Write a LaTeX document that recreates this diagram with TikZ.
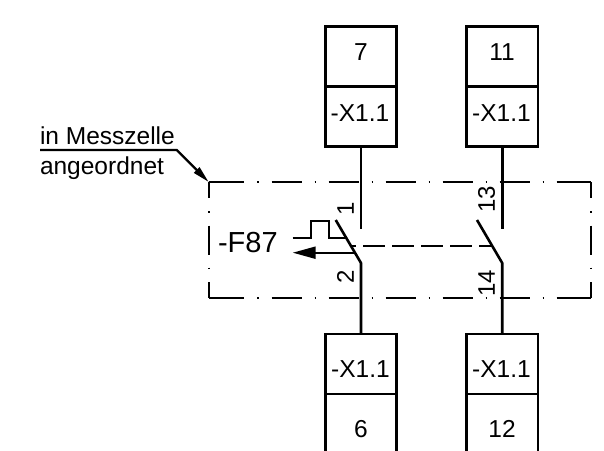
\documentclass[tikz,border=0pt]{standalone}
\usepackage{fontspec}
\setmainfont{Liberation Sans}
\usetikzlibrary{arrows.meta}
\tikzset{
  cell/.style={draw=black,line width=2.6pt,minimum width=71.5pt,minimum height=60pt,inner sep=0pt,outer sep=0pt},
  celltext/.style={inner sep=0pt,outer sep=0pt,anchor=base,font=\fontsize{24.5}{26}\selectfont},
  wire/.style={draw=black,line width=2.6pt},
  thin wire/.style={draw=black,line width=2.2pt},
  border/.style={draw=black,line width=1.9pt},
  txt/.style={inner sep=0pt,outer sep=0pt,font=\fontsize{24.5}{26}\selectfont},
  pin/.style={inner sep=0pt,outer sep=0pt,rotate=90,font=\fontsize{24}{26}\selectfont}
}
\begin{document}
\begin{tikzpicture}[x=1pt,y=-1pt]
\useasboundingbox (0,0) rectangle (604,450);
% enclosure corners
\coordinate (tl) at (208.7,182);
\coordinate (tr) at (590.7,182);
\coordinate (bl) at (208.7,298);
\coordinate (br) at (590.7,298);
% dash-dot enclosure
\draw[border,dash pattern=on 35.3pt off 13pt on 1.6pt off 13.1pt on 30pt off 13pt on 1.6pt off 12.4pt on 30pt off 13pt on 1.6pt off 12.4pt on 30pt off 13pt on 1.6pt off 12.4pt on 30pt off 13pt on 1.6pt off 12.4pt on 30pt off 13pt on 1.6pt off 12.4pt on 35pt off 100pt] (tl) -- (tr);
\draw[border,dash pattern=on 35.3pt off 13pt on 1.6pt off 13.1pt on 30pt off 13pt on 1.6pt off 12.4pt on 30pt off 13pt on 1.6pt off 12.4pt on 30pt off 13pt on 1.6pt off 12.4pt on 30pt off 13pt on 1.6pt off 12.4pt on 30pt off 13pt on 1.6pt off 12.4pt on 35pt off 100pt] (bl) -- (br);
\draw[border,dash pattern=on 16pt off 13pt on 1.6pt off 13pt on 29pt off 13pt on 1.6pt off 13pt on 16pt off 100pt] (tl) -- (bl);
\draw[border,dash pattern=on 16pt off 13pt on 1.6pt off 13pt on 29pt off 13pt on 1.6pt off 13pt on 16pt off 100pt] (tr) -- (br);
% terminal boxes
\node[cell] (a1) at (361,56.7) {};
\node[cell] (a2) at (361,116.7) {};
\node[cell] (b1) at (502.2,56.7) {};
\node[cell] (b2) at (502.2,116.7) {};
\node[cell] (c2) at (361,364) {};
\node[cell] (c1) at (361,424) {};
\node[cell] (d2) at (502.2,364) {};
\node[cell] (d1) at (502.2,424) {};
\node[celltext] (a1t) at (361,60) {7};
\node[celltext] (a2t) at (360,121) {-X1.1};
\node[celltext] (b1t) at (502,60) {11};
\node[celltext] (b2t) at (501.5,121) {-X1.1};
\node[celltext] (c2t) at (360.5,377.3) {-X1.1};
\node[celltext] (c1t) at (361,437) {6};
\node[celltext] (d2t) at (501.5,377.3) {-X1.1};
\node[celltext] (d1t) at (502,437) {12};
% contact points
\coordinate (a3) at (361,229);
\coordinate (b3) at (502.2,229);
\coordinate (c3) at (361,263);
\coordinate (d3) at (502.2,263);
\coordinate (c4) at (335.7,220);
\coordinate (d4) at (477,220);
% wires and blades
\draw[wire] (a2.south) -- (a3);
\draw[wire] (b2.south) -- (b3);
\draw[wire,line join=round] (c2.north) -- (c3) -- (c4);
\draw[wire,line join=round] (d2.north) -- (d3) -- (d4);
% mechanical link
\coordinate (l1) at (351,245.7);
\coordinate (l2) at (491,245.7);
\draw[border,dash pattern=on 5pt off 7pt on 22pt off 7pt on 22pt off 7pt on 22pt off 7pt on 22pt off 7pt on 22pt off 100pt] (l1) -- (l2);
% thermal symbol
\coordinate (p0) at (292.7,238.3);
\coordinate (p1) at (311,238.3);
\coordinate (p2) at (311,220.7);
\coordinate (p3) at (329,220.7);
\coordinate (p4) at (329,238.3);
\coordinate (p5) at (346,238.3);
\draw[thin wire,line join=miter] (p0) -- (p1) -- (p2) -- (p3) -- (p4) -- (p5);
% output arrow
\coordinate (q0) at (356,252.7);
\coordinate (q1) at (292.7,252.7);
\draw[thin wire,-{Triangle[length=23pt,width=12pt]}] (q0) -- (q1);
% leader
\coordinate (m0) at (40,150);
\coordinate (m1) at (176.7,150);
\draw[thin wire,-{Triangle[length=17pt,width=7.5pt]}] (m0) -- (m1) -- (tl);
% text
\node[txt,anchor=base west] (t1) at (40,144.3) {in Messzelle};
\node[txt,anchor=base west] (t2) at (40,174.5) {angeordnet};
\node[inner sep=0pt,outer sep=0pt,anchor=base west,font=\fontsize{29}{30}\selectfont] (t3) at (218,252.5) {-F87};
\node[pin] (n1) at (345.5,208.5) {1};
\node[pin] (n2) at (345.5,276.7) {2};
\node[pin] (n3) at (486.5,199.5) {13};
\node[pin] (n4) at (486.5,283) {14};
\end{tikzpicture}
\end{document}
